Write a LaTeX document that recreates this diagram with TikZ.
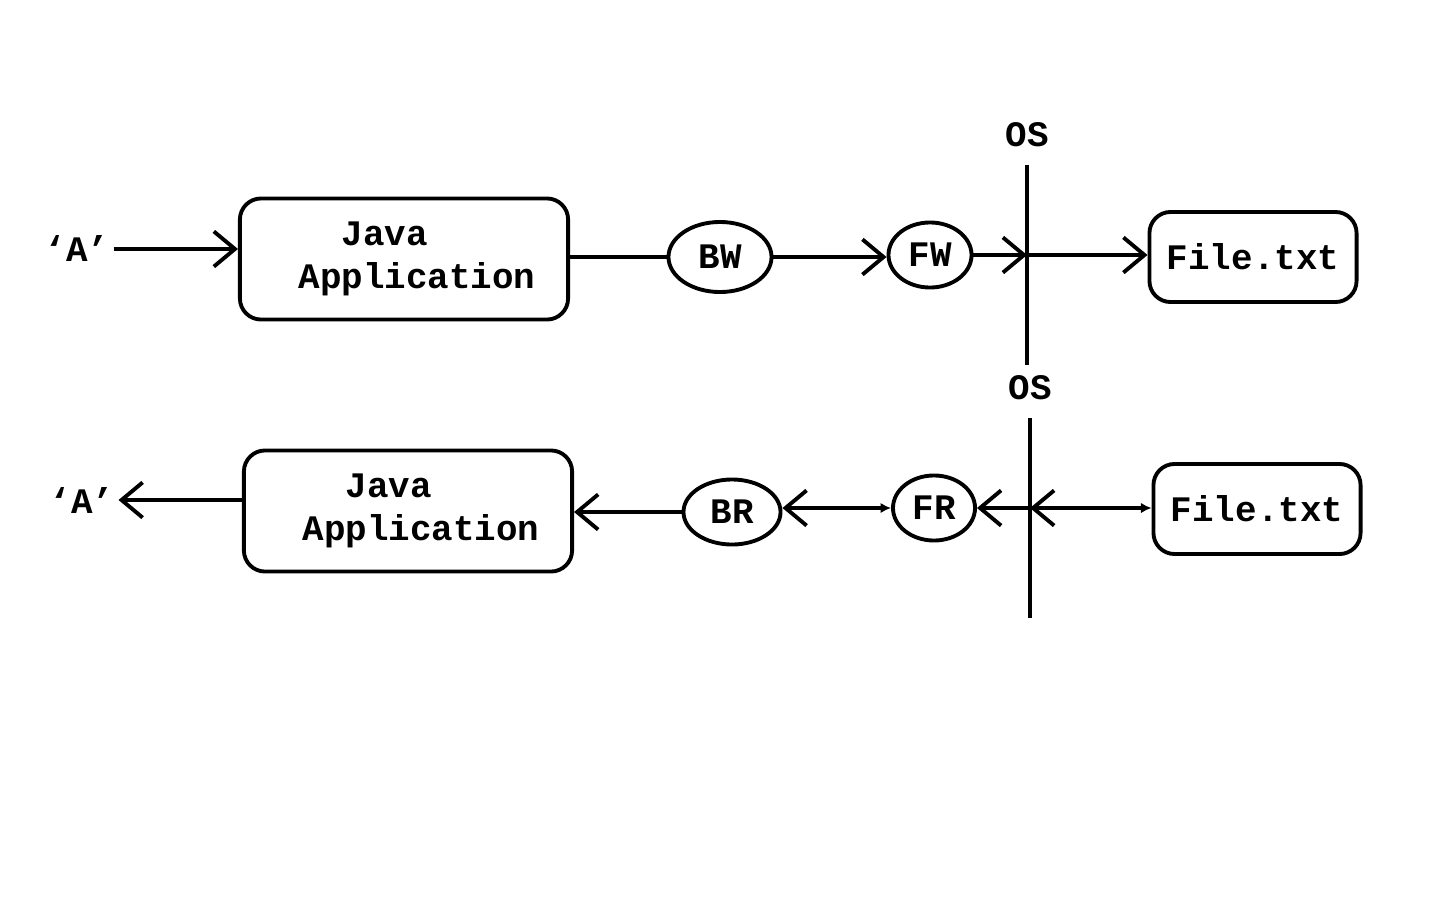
\documentclass[tikz,border=0pt]{standalone}
\usepackage{fontspec}
\setmonofont{Liberation Mono}
\usetikzlibrary{shapes.geometric, arrows.meta, positioning, calc}

\begin{document}
\begin{tikzpicture}[
  x=0.01cm, y=-0.01cm,
  every node/.style={font=\ttfamily\bfseries\fontsize{10.2}{12.2}\selectfont},
  appbox/.style={rectangle, rounded corners=6pt, draw, line width=1.1pt,
                 minimum width=3.28cm, minimum height=1.21cm, align=left},
  filebox/.style={rectangle, rounded corners=6pt, draw, line width=1.1pt,
                  minimum width=2.07cm, minimum height=0.9cm},
  stream/.style={ellipse, draw, line width=1.1pt, inner sep=0pt},
  lbl/.style={inner sep=1pt},
  big/.tip={Straight Barb[length=6pt, width=10pt, line width=1.1pt]},
  small/.tip={Latex[length=3pt, width=3pt]},
  arr/.style={-big, line width=1.1pt},
  conn/.style={line width=1.1pt}
]
  \useasboundingbox (0,0) rectangle (1440,900);

  % Writing
  \node[lbl]     (inA)   at (77, 249)   {‘A’};
  \node[appbox]  (app1)  at (404, 259)
        {\hspace*{0.26cm}\phantom{Ap}Java\\\hspace*{0.26cm}Application};
  \node[stream, minimum width=1.03cm, minimum height=0.70cm] (bw) at (720, 257) {BW};
  \node[stream, minimum width=0.83cm, minimum height=0.65cm] (fw) at (930, 255) {FW};
  \coordinate    (os1t)  at (1027, 165);
  \coordinate    (os1b)  at (1027, 365);
  \node[lbl, above=4pt of os1t] (os1) {OS};
  \node[filebox] (file1) at (1253, 257) {File.txt};

  \draw[arr]  (inA.east) -- (inA.east -| app1.west);
  \draw[conn] (app1.east |- bw) -- (bw.west);
  \draw[arr]  (bw.east) -- (bw.east -| fw.west);
  \draw[conn] (os1t) -- (os1b);
  \draw[arr]  (fw.east) -- (fw.east -| os1t);
  \draw[arr]  (os1t |- fw.east) -- (fw.east -| file1.west);

  % Reading
  \node[lbl]     (outA)  at (82, 500)   {‘A’};
  \node[appbox]  (app2)  at (408, 511)
        {\hspace*{0.26cm}\phantom{Ap}Java\\\hspace*{0.26cm}Application};
  \node[stream, minimum width=0.97cm, minimum height=0.65cm] (br) at (732, 512) {BR};
  \node[stream, minimum width=0.82cm, minimum height=0.65cm] (fr) at (934, 508) {FR};
  \coordinate    (os2t)  at (1030, 418);
  \coordinate    (os2b)  at (1030, 618);
  \node[lbl, above=4pt of os2t] (os2) {OS};
  \node[filebox] (file2) at (1257, 509) {File.txt};

  \draw[arr]  (app2.west |- outA) -- (outA.east);
  \draw[arr]  (br.west) -- (br.west -| app2.east);
  \draw[big-small, line width=1.1pt] (br.east |- fr) -- (fr.west);
  \draw[conn] (os2t) -- (os2b);
  \draw[arr]  (fr.east -| os2t) -- (fr.east);
  \draw[big-small, line width=1.1pt] (os2t |- fr.east) -- (fr.east -| file2.west);

\end{tikzpicture}
\end{document}
